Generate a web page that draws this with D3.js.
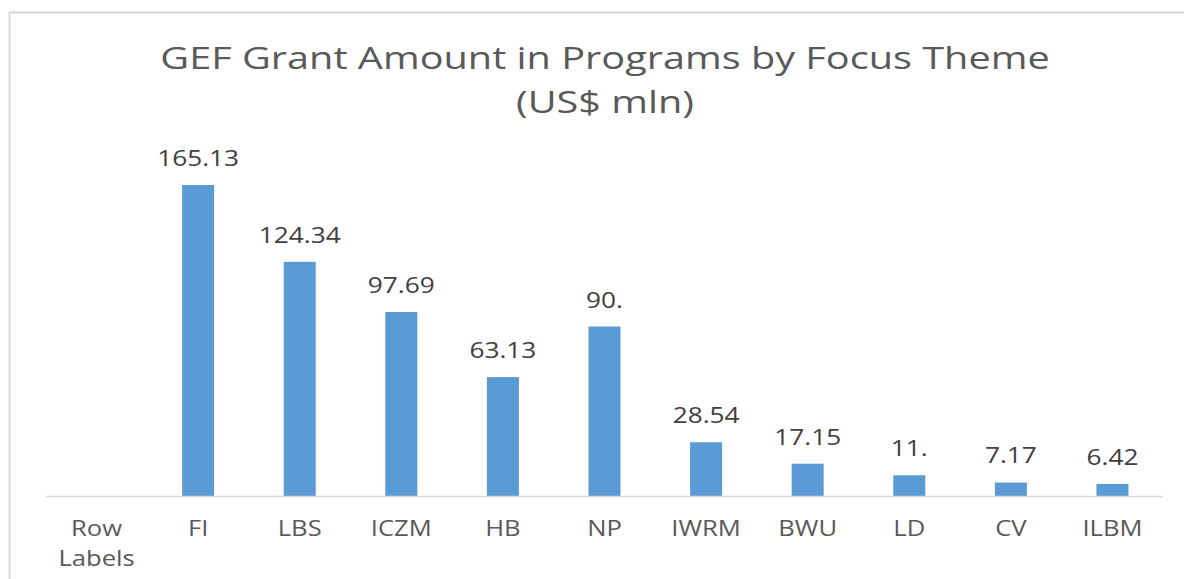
<!DOCTYPE html>
<html>
<head>
<meta charset="utf-8">
<script src="https://cdn.jsdelivr.net/npm/d3@7"></script>
<style>
  body { margin: 0; background: #fff; }
  text { font-family: "Open Sans", "Noto Sans", sans-serif; }
</style>
</head>
<body>
<script>
var categories = ['Row Labels', 'FI', 'LBS', 'ICZM', 'HB', 'NP', 'IWRM', 'BWU', 'LD', 'CV', 'ILBM'];
var values = [null, 165.13, 124.34, 97.69, 63.13, 90, 28.54, 17.15, 11, 7.17, 6.42];
var valueLabels = ['', '165.13', '124.34', '97.69', '63.13', '90.', '28.54', '17.15', '11.', '7.17', '6.42'];
var titleLines = ['GEF Grant Amount in Programs by Focus Theme', '(US$ mln)'];

var width = 1184, height = 579;

var svg = d3.select('body').append('svg').attr('width', width).attr('height', height);

// chart frame
svg.append('rect')
  .attr('x', 9.5).attr('y', 12.5)
  .attr('width', 1200).attr('height', 600)
  .attr('fill', 'none').attr('stroke', '#d9d9d9').attr('stroke-width', 2);

var x = d3.scaleBand().domain(categories).range([46, 1163]).paddingInner(0.685).paddingOuter(0.34);
var y = d3.scaleLinear().domain([0, 180]).range([496, 157]);

// title (text in the picture is drawn wider than normal, hence the x scale)
svg.selectAll('text.title').data(titleLines).enter().append('text')
  .attr('class', 'title')
  .attr('transform', function(d, i) { return 'translate(605,' + (69 + i * 44) + ') scale(1.28,1)'; })
  .attr('text-anchor', 'middle')
  .attr('font-size', 31)
  .attr('fill', '#595959')
  .text(function(d) { return d; });

var data = categories.map(function(c, i) { return { cat: c, value: values[i], label: valueLabels[i] }; })
  .filter(function(d) { return d.value != null; });

svg.selectAll('rect.bar').data(data).enter().append('rect')
  .attr('class', 'bar')
  .attr('x', function(d) { return x(d.cat); })
  .attr('width', x.bandwidth())
  .attr('y', function(d) { return y(d.value); })
  .attr('height', function(d) { return y(0) - y(d.value); })
  .attr('fill', '#5b9bd5');

svg.selectAll('text.val').data(data).enter().append('text')
  .attr('class', 'val')
  .attr('transform', function(d) {
    return 'translate(' + (x(d.cat) + x.bandwidth() / 2) + ',' + (y(d.value) - 19) + ') scale(1.25,1)';
  })
  .attr('text-anchor', 'middle')
  .attr('font-size', 21)
  .attr('fill', '#404040')
  .text(function(d) { return d.label; });

// category axis
var axis = svg.append('g').attr('transform', 'translate(0,' + y(0) + ')')
  .call(d3.axisBottom(x).tickSize(0).tickPadding(0).tickSizeOuter(0));
axis.select('.domain').attr('stroke', '#d9d9d9').attr('stroke-width', 1.5)
  .attr('d', 'M46,0.5H1163');
axis.selectAll('.tick text').each(function(d) {
  var t = d3.select(this);
  var words = d.split(' ');
  t.text(null)
    .attr('font-size', 21)
    .attr('fill', '#595959')
    .attr('font-family', '"Open Sans", "Noto Sans", sans-serif')
    .attr('dy', null).attr('y', 0)
    .attr('transform', 'translate(0,40) scale(1.22,1)');
  words.forEach(function(w, i) {
    t.append('tspan').attr('x', 0).attr('y', i * 30).text(w);
  });
});
</script>
</body>
</html>
